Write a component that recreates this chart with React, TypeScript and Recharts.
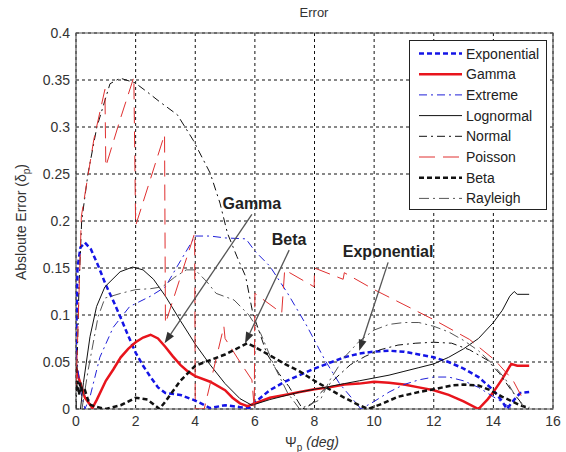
import React from 'react';
import { LineChart, Line, XAxis, YAxis, CartesianGrid, ReferenceArea, ReferenceLine, Legend } from 'recharts';

const FONT = '"Liberation Sans", Arial, sans-serif';

const xTicks = [0, 2, 4, 6, 8, 10, 12, 14, 16];
const yTicks = [0, 0.05, 0.1, 0.15, 0.2, 0.25, 0.3, 0.35, 0.4];
const yTickLabels = ['0', '0.05', '0.1', '0.15', '0.2', '0.25', '0.3', '0.35', '0.4'];

// [psi, error] pairs
const exponentialPts: [number, number][] = [
  [0, 0.06], [0.05, 0.15], [0.15, 0.172], [0.3, 0.177], [0.5, 0.17], [0.75, 0.152], [1, 0.132],
  [1.25, 0.115], [1.5, 0.097], [1.75, 0.078], [2, 0.06], [2.25, 0.046], [2.5, 0.034], [2.75, 0.023],
  [3, 0.017], [3.5, 0.015], [4, 0.009], [4.5, 0.001], [5, 0.004], [5.5, 0.002], [5.8, 0.001],
  [6, 0.007], [6.5, 0.02], [7, 0.029], [7.5, 0.036], [8, 0.043], [8.5, 0.049], [9, 0.055],
  [9.5, 0.059], [10, 0.061], [10.5, 0.062], [11, 0.061], [11.5, 0.058], [12, 0.055], [12.5, 0.05],
  [13, 0.043], [13.5, 0.034], [14, 0.02], [14.3, 0.008], [14.45, 0], [14.7, 0.01], [14.9, 0.017], [15.2, 0.018],
];

const gammaPts: [number, number][] = [
  [0, 0.045], [0.1, 0.032], [0.3, 0.012], [0.55, 0.001], [0.7, 0.01], [1, 0.03], [1.25, 0.042],
  [1.5, 0.055], [1.75, 0.064], [2, 0.071], [2.25, 0.076], [2.5, 0.079], [2.75, 0.075], [3, 0.066],
  [3.25, 0.056], [3.5, 0.047], [3.75, 0.04], [4, 0.035], [4.5, 0.029], [5, 0.02], [5.25, 0.012],
  [5.5, 0.006], [5.75, 0.003], [6, 0.006], [6.5, 0.012], [7, 0.015], [7.5, 0.018], [8, 0.021],
  [8.5, 0.023], [9, 0.026], [9.5, 0.027], [10, 0.029], [10.5, 0.028], [11, 0.026], [11.5, 0.023],
  [12, 0.02], [12.5, 0.015], [13, 0.008], [13.5, 0], [13.8, 0.01], [14, 0.018], [14.3, 0.032],
  [14.6, 0.048], [14.8, 0.046], [15.2, 0.046],
];

const extremePts: [number, number][] = [
  [0, 0.06], [0.15, 0.02], [0.3, 0], [0.47, 0.013], [0.8, 0.055], [1.25, 0.087], [1.8, 0.109],
  [2.5, 0.12], [3, 0.13], [3.4, 0.152], [4, 0.184], [4.5, 0.184], [5, 0.182], [5.7, 0.181],
  [6, 0.168], [6.5, 0.152], [7.1, 0.123], [7.75, 0.088], [8.35, 0.052], [8.84, 0.027], [9.56, 0],
  [10, 0.008], [10.5, 0.018], [11, 0.026], [11.5, 0.031], [12, 0.034], [12.5, 0.034], [13, 0.03],
  [13.5, 0.023], [14, 0.013], [14.5, 0.003], [14.7, 0],
];

const lognormalPts: [number, number][] = [
  [0.15, 0], [0.25, 0.028], [0.47, 0.077], [0.69, 0.109], [0.97, 0.13], [1.48, 0.146], [1.9, 0.151],
  [2.25, 0.148], [2.6, 0.138], [3, 0.12], [3.5, 0.094], [4, 0.069], [4.5, 0.047], [5, 0.027],
  [5.5, 0.011], [5.9, 0.004], [6.5, 0.01], [7, 0.014], [7.5, 0.018], [8, 0.021], [8.5, 0.024],
  [9, 0.027], [9.5, 0.03], [10, 0.033], [10.5, 0.036], [11, 0.04], [11.5, 0.044], [12, 0.048],
  [12.5, 0.055], [13, 0.064], [13.5, 0.075], [14, 0.092], [14.3, 0.105], [14.55, 0.12],
  [14.7, 0.125], [14.8, 0.122], [15.2, 0.122],
];

const normalPts: [number, number][] = [
  [0, 0], [0.1, 0.13], [0.19, 0.2], [0.4, 0.25], [0.7, 0.3], [1.14, 0.346], [1.48, 0.352],
  [1.98, 0.347], [2.4, 0.337], [2.8, 0.327], [3.4, 0.313], [3.93, 0.286], [4.5, 0.251], [4.83, 0.219],
  [5.08, 0.187], [5.4, 0.162], [5.69, 0.141], [5.93, 0.102], [6.4, 0.059], [6.8, 0.038], [7.14, 0.024],
  [7.6, 0], [7.9, 0.005], [8.2, 0.017], [8.75, 0.034], [9.2, 0.047], [9.7, 0.056], [10.2, 0.063],
  [10.8, 0.068], [11.4, 0.07], [12, 0.071], [12.6, 0.07], [13.2, 0.063], [13.8, 0.052], [14.2, 0.038],
  [14.6, 0.02], [14.9, 0.008], [15.1, 0],
];

const poissonPts: [number, number][] = [
  [0, 0.02], [0.06, 0.08], [0.18, 0.205], [0.6, 0.287], [0.97, 0.34], [1, 0.258], [1.5, 0.31],
  [1.94, 0.353], [2, 0.195], [2.5, 0.245], [2.97, 0.292], [3, 0.091], [3.5, 0.14], [3.98, 0.187],
  [4, 0], [4.3, 0], [4.96, 0.088], [5, 0.075], [5.5, 0.05], [5.9, 0.031], [5.98, 0], [6, 0.123],
  [6.9, 0.102], [7, 0.148], [7.99, 0.13], [8, 0.15], [8.96, 0.138], [9, 0.145], [10, 0.127],
  [11, 0.111], [12, 0.095], [13.2, 0.074], [14.05, 0.052], [14.65, 0.031], [15, 0.01],
];

const betaPts: [number, number][] = [
  [0, 0.02], [0.05, 0.03], [0.1, 0.015], [0.15, 0.028], [0.2, 0.018], [0.3, 0.02], [0.45, 0.005],
  [0.6, 0.003], [1, 0], [1.5, 0.004], [2, 0.012], [2.4, 0.01], [2.8, 0], [3, 0.008], [3.5, 0.03],
  [4, 0.046], [4.5, 0.052], [5, 0.058], [5.5, 0.066], [5.75, 0.07], [6, 0.066], [6.5, 0.057],
  [7, 0.048], [7.5, 0.04], [8, 0.03], [8.5, 0.021], [9, 0.012], [9.5, 0.004], [9.8, 0], [10.3, 0.006],
  [10.8, 0.013], [11.5, 0.018], [12, 0.021], [12.6, 0.025], [13, 0.026], [13.5, 0.025], [13.9, 0.02],
  [14.3, 0.013], [14.9, 0.004], [15.2, 0.001],
];

const rayleighPts: [number, number][] = [
  [0.2, 0], [0.4, 0.04], [0.74, 0.098], [0.97, 0.118], [1.5, 0.123], [2, 0.127], [2.5, 0.128],
  [2.9, 0.13], [3.3, 0.14], [3.7, 0.148], [4, 0.148], [4.4, 0.135], [4.7, 0.123], [5.3, 0.116],
  [5.8, 0.1], [6.2, 0.08], [6.66, 0.045], [7.1, 0.017], [7.5, 0], [8.2, 0.01], [8.5, 0.03],
  [9, 0.055], [9.5, 0.072], [10, 0.084], [10.5, 0.09], [11, 0.092], [11.5, 0.092], [12, 0.088],
  [12.5, 0.082], [13, 0.073], [13.5, 0.062], [14, 0.047], [14.4, 0.032], [14.7, 0.016], [15, 0.003],
];

const toRows = (pts: [number, number][]) => pts.map(([x, y]) => ({ x, y }));

const series = [
  { name: 'Exponential', pts: exponentialPts, color: '#1414e6', width: 2.5, dash: '5 3' },
  { name: 'Gamma', pts: gammaPts, color: '#e8141c', width: 2.5, dash: undefined },
  { name: 'Extreme', pts: extremePts, color: '#2020d8', width: 1, dash: '8 4 2 4' },
  { name: 'Lognormal', pts: lognormalPts, color: '#111111', width: 1, dash: undefined },
  { name: 'Normal', pts: normalPts, color: '#111111', width: 1, dash: '8 4 2 4' },
  { name: 'Poisson', pts: poissonPts, color: '#e03030', width: 1, dash: '16 8' },
  { name: 'Beta', pts: betaPts, color: '#111111', width: 2.5, dash: '5 3' },
  { name: 'Rayleigh', pts: rayleighPts, color: '#555555', width: 1, dash: '10 4 2 4' },
];

const annotations = [
  { label: 'Gamma', from: { x: 5.9, y: 0.207 }, to: { x: 2.97, y: 0.07 } },
  { label: 'Beta', from: { x: 7.15, y: 0.169 }, to: { x: 5.67, y: 0.07 } },
  { label: 'Exponential', from: { x: 10.47, y: 0.156 }, to: { x: 9.5, y: 0.062 } },
];

const makeArrow = (label: string) => (p: any) => {
  const { x1, y1, x2, y2 } = p;
  const ang = Math.atan2(y2 - y1, x2 - x1);
  const len = 11;
  const hw = 4;
  const bx = x2 - len * Math.cos(ang);
  const by = y2 - len * Math.sin(ang);
  const nx = -Math.sin(ang) * hw;
  const ny = Math.cos(ang) * hw;
  return (
    <g>
      <line x1={x1} y1={y1} x2={bx} y2={by} stroke="#555" strokeWidth={1.3} />
      <polygon points={`${x2},${y2} ${bx + nx},${by + ny} ${bx - nx},${by - ny}`} fill="#333" />
      <text x={x1} y={y1 - 5} textAnchor="middle" fontFamily={FONT} fontWeight="bold" fontSize={16} fill="#222">
        {label}
      </text>
    </g>
  );
};

const renderLegend = () => (
  <svg width={138} height={170} style={{ display: 'block' }}>
    <rect x={0.5} y={0.5} width={137} height={169} fill="#fff" stroke="#222" strokeWidth={1} />
    {series.map((s, i) => {
      const cy = 13.5 + i * 20.7;
      return (
        <g key={s.name}>
          <line x1={10} y1={cy} x2={53} y2={cy} stroke={s.color} strokeWidth={s.width} strokeDasharray={s.dash} />
          <text x={57} y={cy + 5} fontFamily={FONT} fontSize={14} fill="#222">{s.name}</text>
        </g>
      );
    })}
  </svg>
);

export default function App() {
  return (
    <div style={{ position: 'absolute', left: 0, top: 0, background: '#fff' }}>
      <LineChart width={566} height={452} margin={{ top: 33, right: 13, left: 0, bottom: 0 }}>
        <CartesianGrid stroke="#111" strokeDasharray="3 3" strokeWidth={1} />
        <XAxis
          type="number"
          dataKey="x"
          domain={[0, 16]}
          ticks={xTicks}
          allowDataOverflow
          height={43}
          tickLine={false}
          axisLine={false}
          tickSize={0}
          tickMargin={7}
          tick={{ fontSize: 14, fill: '#333', fontFamily: FONT }}
        />
        <YAxis
          type="number"
          domain={[0, 0.4]}
          ticks={yTicks}
          allowDataOverflow
          width={76}
          tickLine={false}
          axisLine={false}
          tickSize={0}
          tickMargin={6}
          tickFormatter={(v: number) => yTickLabels[yTicks.indexOf(v)] ?? String(v)}
          tick={{ fontSize: 14, fill: '#333', fontFamily: FONT }}
        />
        {series.map((s) => (
          <Line
            key={s.name}
            data={toRows(s.pts)}
            dataKey="y"
            name={s.name}
            type="linear"
            stroke={s.color}
            strokeWidth={s.width}
            strokeDasharray={s.dash}
            dot={false}
            activeDot={false}
            isAnimationActive={false}
          />
        ))}
        {annotations.map((a) => (
          <ReferenceLine
            key={a.label}
            segment={[a.from, a.to]}
            shape={makeArrow(a.label)}
            ifOverflow="visible"
          />
        ))}
        <ReferenceArea x1={0} x2={16} y1={0} y2={0.4} fill="none" stroke="#555" strokeWidth={1.2} ifOverflow="visible" />
        <Legend
          layout="vertical"
          align="center"
          verticalAlign="middle"
          content={renderLegend}
          wrapperStyle={{ left: 409, top: 40, width: 138, height: 170 }}
        />
        <text x={314} y={17} textAnchor="middle" fontFamily={FONT} fontSize={13} fill="#333">Error</text>
        <text transform="translate(26,222) rotate(-90)" textAnchor="middle" fontFamily={FONT} fontSize={14} fill="#333">
          Absloute Error (δ<tspan fontSize={10} dy={4}>p</tspan><tspan dy={-4}>)</tspan>
        </text>
        <text x={312} y={447} textAnchor="middle" fontFamily={FONT} fontSize={14} fill="#333">
          Ψ<tspan fontSize={10} dy={4}>p</tspan><tspan dy={-4} fontStyle="italic"> (deg)</tspan>
        </text>
      </LineChart>
    </div>
  );
}
